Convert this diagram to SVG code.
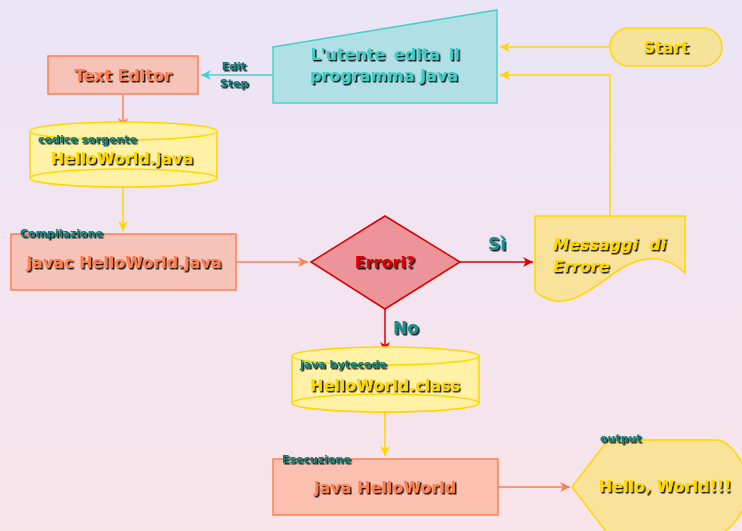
<svg xmlns="http://www.w3.org/2000/svg" width="742" height="531" viewBox="0 0 742 531">
<defs>
<linearGradient id="bg" x1="0" y1="0" x2="0" y2="1">
<stop offset="0" stop-color="#ebe5f6"/>
<stop offset="1" stop-color="#f9e4ea"/>
</linearGradient>
<filter id="sh" x="-10%" y="-30%" width="130%" height="170%">
<feDropShadow dx="1.5" dy="1.5" stdDeviation="0" flood-color="#000" flood-opacity="0.9"/>
</filter>
<marker id="aCoral" viewBox="0 0 10 10" refX="10" refY="5" markerWidth="10" markerHeight="10" markerUnits="userSpaceOnUse" orient="auto"><path d="M0,0 L10,5 L0,10 L3,5 z" fill="#ff7f50"/></marker>
<marker id="aCyan" viewBox="0 0 10 10" refX="10" refY="5" markerWidth="10" markerHeight="10" markerUnits="userSpaceOnUse" orient="auto"><path d="M0,0 L10,5 L0,10 L3,5 z" fill="#48d1cc"/></marker>
<marker id="aGold" viewBox="0 0 10 10" refX="10" refY="5" markerWidth="10" markerHeight="10" markerUnits="userSpaceOnUse" orient="auto"><path d="M0,0 L10,5 L0,10 L3,5 z" fill="#ffd700"/></marker>
<marker id="aRed" viewBox="0 0 10 10" refX="10" refY="5" markerWidth="10" markerHeight="10" markerUnits="userSpaceOnUse" orient="auto"><path d="M0,0 L10,5 L0,10 L3,5 z" fill="#dd0000"/></marker>
</defs>
<style>
text { font-family: "Comic Sans MS", "DejaVu Sans", "Liberation Sans", sans-serif; font-weight: bold; filter: url(#sh); }
.lbl { font-size: 11px; fill: #0c7c78; }
.coral { fill: #ff7f50; font-size: 16px; }
.gold { fill: #ffd700; font-size: 16px; }
.cyanT { fill: #40cdc6; font-size: 16px; }
.c { text-anchor: middle; }
.box { fill: #f7c3b8; stroke: #ff7f50; stroke-width: 1.5; }
.cyl { fill: #fff2a6; stroke: #ffd700; stroke-width: 1.5; }
.ln { fill: none; stroke-width: 1.5; }
</style>
<rect width="742" height="531" fill="url(#bg)"/>

<g id="connectors">
<path class="ln" d="M610,47 L500,47" stroke="#ffd700" marker-end="url(#aGold)"/>
<path class="ln" d="M610,216 L610,75 L500,75" stroke="#ffd700" marker-end="url(#aGold)"/>
<path class="ln" d="M273,75 L201,75" stroke="#48d1cc" marker-end="url(#aCyan)"/>
<path class="ln" d="M123,95 L123,128" stroke="#ff7f50" marker-end="url(#aCoral)"/>
<path class="ln" d="M123,187 L123,231" stroke="#ffd700" marker-end="url(#aGold)"/>
<path class="ln" d="M236,262 L308,262" stroke="#ff7f50" marker-end="url(#aCoral)"/>
<path class="ln" d="M460,262 L533,262" stroke="#dd0000" marker-end="url(#aRed)"/>
<path class="ln" d="M385,309 L385,352" stroke="#dd0000" marker-end="url(#aRed)"/>
<path class="ln" d="M385,412 L385,456" stroke="#ffd700" marker-end="url(#aGold)"/>
<path class="ln" d="M498,487 L570,487" stroke="#ff7f50" marker-end="url(#aCoral)"/>
<text class="lbl c" x="234" y="70" font-size="12">Edit</text>
<text class="lbl c" x="234" y="87" font-size="12">Step</text>
<text class="c" x="497" y="250" style="fill:#129190;font-size:17px">Sì</text>
<text class="c" x="406" y="334" style="fill:#129190;font-size:17px">No</text>
</g>

<g id="start">
<rect x="610" y="28" width="112" height="38" rx="19" fill="#f6e39a" stroke="#ffd700" stroke-width="1.5"/>
<text class="gold c" x="666" y="53" font-size="17">Start</text>
</g>

<g id="utente">
<path d="M273,47 L497,10 L497,103 L273,103 Z" fill="#b0e0e6" stroke="#48d1cc" stroke-width="1.5"/>
<text class="cyanT c" x="385" y="60" word-spacing="3">L'utente edita il</text>
<text class="cyanT c" x="384" y="81">programma Java</text>
</g>

<g id="texteditor">
<rect class="box" x="48" y="56" width="150" height="38"/>
<text class="coral c" x="123" y="81" font-size="17">Text Editor</text>
</g>

<g id="sorgente">
<path class="cyl" d="M30,131 L30,178 A93.5,9 0 0 0 217,178 L217,131"/>
<ellipse class="cyl" cx="123.5" cy="178" rx="93.5" ry="9" fill="none"/>
<ellipse class="cyl" cx="123.5" cy="131" rx="93.5" ry="9"/>
<text class="lbl" x="38" y="143">codice sorgente</text>
<text class="gold c" x="122" y="164">HelloWorld.java</text>
</g>

<g id="compilazione">
<rect class="box" x="11" y="234" width="225" height="56"/>
<text class="lbl" x="20" y="237">Compilazione</text>
<text class="coral c" x="124" y="268">javac HelloWorld.java</text>
</g>

<g id="errori">
<path d="M311,262 L385,216 L460,262 L385,309 Z" fill="#ec949a" stroke="#dd0000" stroke-width="1.5"/>
<text class="c" x="385" y="268" style="fill:#dd0000;font-size:16px">Errori?</text>
</g>

<g id="messaggi">
<path d="M535,216 L685,216 L685,273 C668,256 645,254 622,268 C600,282 578,304 555,301 C545,299 537,294 535,290 Z" fill="#f9e29a" stroke="#ffd700" stroke-width="1.5"/>
<text class="gold" x="553" y="250" font-style="italic" font-size="18">Messaggi</text>
<text class="gold" x="666" y="250" font-style="italic" font-size="18" text-anchor="end">di</text>
<text class="gold" x="553" y="272" font-style="italic" font-size="18">Errore</text>
</g>

<g id="bytecode">
<path class="cyl" d="M292,356 L292,403 A93.5,9 0 0 0 479,403 L479,356"/>
<ellipse class="cyl" cx="385.5" cy="403" rx="93.5" ry="9" fill="none"/>
<ellipse class="cyl" cx="385.5" cy="356" rx="93.5" ry="9"/>
<text class="lbl" x="300" y="368">java bytecode</text>
<text class="gold c" x="385" y="391">HelloWorld.class</text>
</g>

<g id="esecuzione">
<rect x="273" y="459" width="225" height="56" fill="#fbc0b0" stroke="#ff7f50" stroke-width="1.5"/>
<text class="lbl" x="282" y="463">Esecuzione</text>
<text class="coral c" x="385" y="493">java HelloWorld</text>
</g>

<g id="output">
<path d="M572,487 L608,440 L718,440 C730,442 746,462 750,487 C746,512 730,532 718,534 L608,534 Z" fill="#f9e29a" stroke="#ffd700" stroke-width="1.5"/>
<text class="lbl" x="600" y="442">output</text>
<text class="gold c" x="665" y="492">Hello, World!!!</text>
</g>
</svg>
